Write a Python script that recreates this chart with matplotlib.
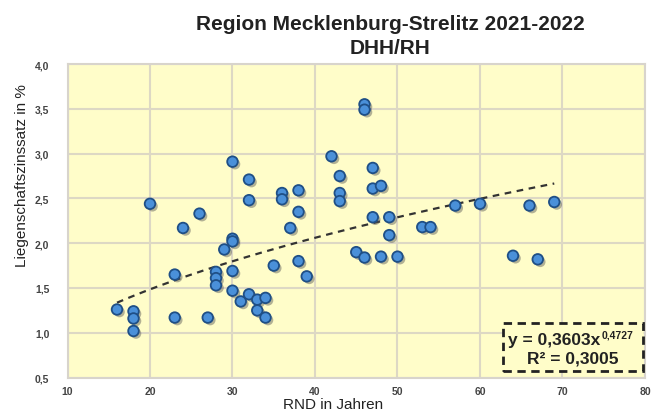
import numpy as np
import matplotlib
matplotlib.use("Agg")
import matplotlib.pyplot as plt
import matplotlib.patheffects as pe
from matplotlib.patches import Rectangle
from matplotlib.ticker import FuncFormatter

plt.rcParams['font.family'] = ['Liberation Sans', 'DejaVu Sans']

rnd = [16, 18, 18, 18, 20, 23, 23, 24, 26, 27, 28, 28, 28, 29,
       30, 30, 30, 30, 30, 31, 32, 32, 32, 33, 33, 34, 34, 35,
       36, 36, 37, 38, 38, 38, 39, 42, 43, 43, 43, 45,
       46, 46, 46, 47, 47, 47, 48, 48, 49, 49, 50, 53, 54,
       57, 60, 64, 66, 67, 69]
lz = [1.26, 1.24, 1.16, 1.02, 2.44, 1.65, 1.17, 2.17, 2.33, 1.17, 1.68, 1.61, 1.53, 1.93,
      2.91, 2.05, 2.02, 1.69, 1.47, 1.35, 2.71, 2.48, 1.43, 1.37, 1.25, 1.39, 1.17, 1.75,
      2.56, 2.49, 2.17, 2.59, 2.35, 1.80, 1.63, 2.97, 2.75, 2.56, 2.47, 1.90,
      3.55, 3.49, 1.84, 2.84, 2.61, 2.29, 2.64, 1.85, 2.29, 2.09, 1.85, 2.18, 2.18,
      2.42, 2.44, 1.86, 2.42, 1.82, 2.46]

coef_a = 0.3603
coef_b = 0.4727
r2 = 0.3005

xticks = [10, 20, 30, 40, 50, 60, 70, 80]
yticks = [0.5, 1.0, 1.5, 2.0, 2.5, 3.0, 3.5, 4.0]

W, H = 658, 414
fig = plt.figure(figsize=(W / 100, H / 100), dpi=100)
fig.patch.set_facecolor('white')


def fx(px):
    return px / W


def fy(py):
    return 1 - py / H


ax = fig.add_axes([fx(67.5), fy(378.6), (645 - 67.5) / W, (378.6 - 65) / H])
ax.set_facecolor('#FFFDC9')
ax.set_xlim(10, 80)
ax.set_ylim(0.5, 4.0)
ax.set_xticks(xticks)
ax.set_yticks(yticks)
ax.grid(True, color='#DDD8C4', linewidth=1.5)
ax.set_axisbelow(True)
for s in ax.spines.values():
    s.set_color('#D8D4CC')
    s.set_linewidth(1.5)
ax.tick_params(length=0, labelsize=7.5, colors='#444444')
ax.tick_params(axis='y', pad=13)
ax.tick_params(axis='x', pad=6)
for lab in ax.get_xticklabels() + ax.get_yticklabels():
    lab.set_fontweight('bold')
ax.yaxis.set_major_formatter(FuncFormatter(lambda v, p: f"{v:.1f}".replace('.', ',')))
ax.xaxis.set_major_formatter(FuncFormatter(lambda v, p: f"{int(v)}"))

# trend line
xt = np.linspace(min(rnd), max(rnd), 200)
ax.plot(xt, coef_a * xt ** coef_b, linestyle=(0, (3, 2.5)), color='#333333', linewidth=1.6, zorder=2)

ax.scatter(rnd, lz, s=58, color='#4A90D9', edgecolors='#1F4F86', linewidths=1.3, zorder=3,
           path_effects=[pe.SimplePatchShadow(offset=(1.8, -1.8), shadow_rgbFace='#555555', alpha=0.45), pe.Normal()])

fig.text(fx(333), fy(405), 'RND in Jahren', ha='center', va='center', fontsize=11, color='#222222')
fig.text(fx(22), fy(176), 'Liegenschaftszinssatz in %', ha='center', va='center', rotation=90,
         fontsize=11, color='#222222')

fig.text(fx(390), fy(25), 'Region Mecklenburg-Strelitz 2021-2022', ha='center', va='center',
         fontsize=15, fontweight='bold', color='#222222')
fig.text(fx(390), fy(49), 'DHH/RH', ha='center', va='center',
         fontsize=15, fontweight='bold', color='#222222')

# equation box
fig.patches.append(Rectangle((fx(503), fy(372)), (643 - 503) / W, (372 - 324) / H,
                             transform=fig.transFigure, facecolor='#FFFDC9', edgecolor='#222222',
                             linestyle=(0, (3, 2)), linewidth=2, zorder=5))
eq_main = f"y = {coef_a:.4f}".replace('.', ',') + "x"
eq_sup = f"{coef_b:.4f}".replace('.', ',')
eq2 = f"R² = {r2:.4f}".replace('.', ',')
t1 = fig.text(fx(508), fy(341), eq_main, ha='left', va='center', fontsize=12.5,
              fontweight='bold', color='#222222', zorder=6)
fig.canvas.draw()
bb = t1.get_window_extent()
fig.text(bb.x1 / W + 1 / W, fy(335), eq_sup, ha='left', va='center', fontsize=7.5,
         fontweight='bold', color='#222222', zorder=6)
fig.text(fx(573), fy(359), eq2, ha='center', va='center', fontsize=12.5,
         fontweight='bold', color='#222222', zorder=6)

fig.savefig('out.png', dpi=100)
